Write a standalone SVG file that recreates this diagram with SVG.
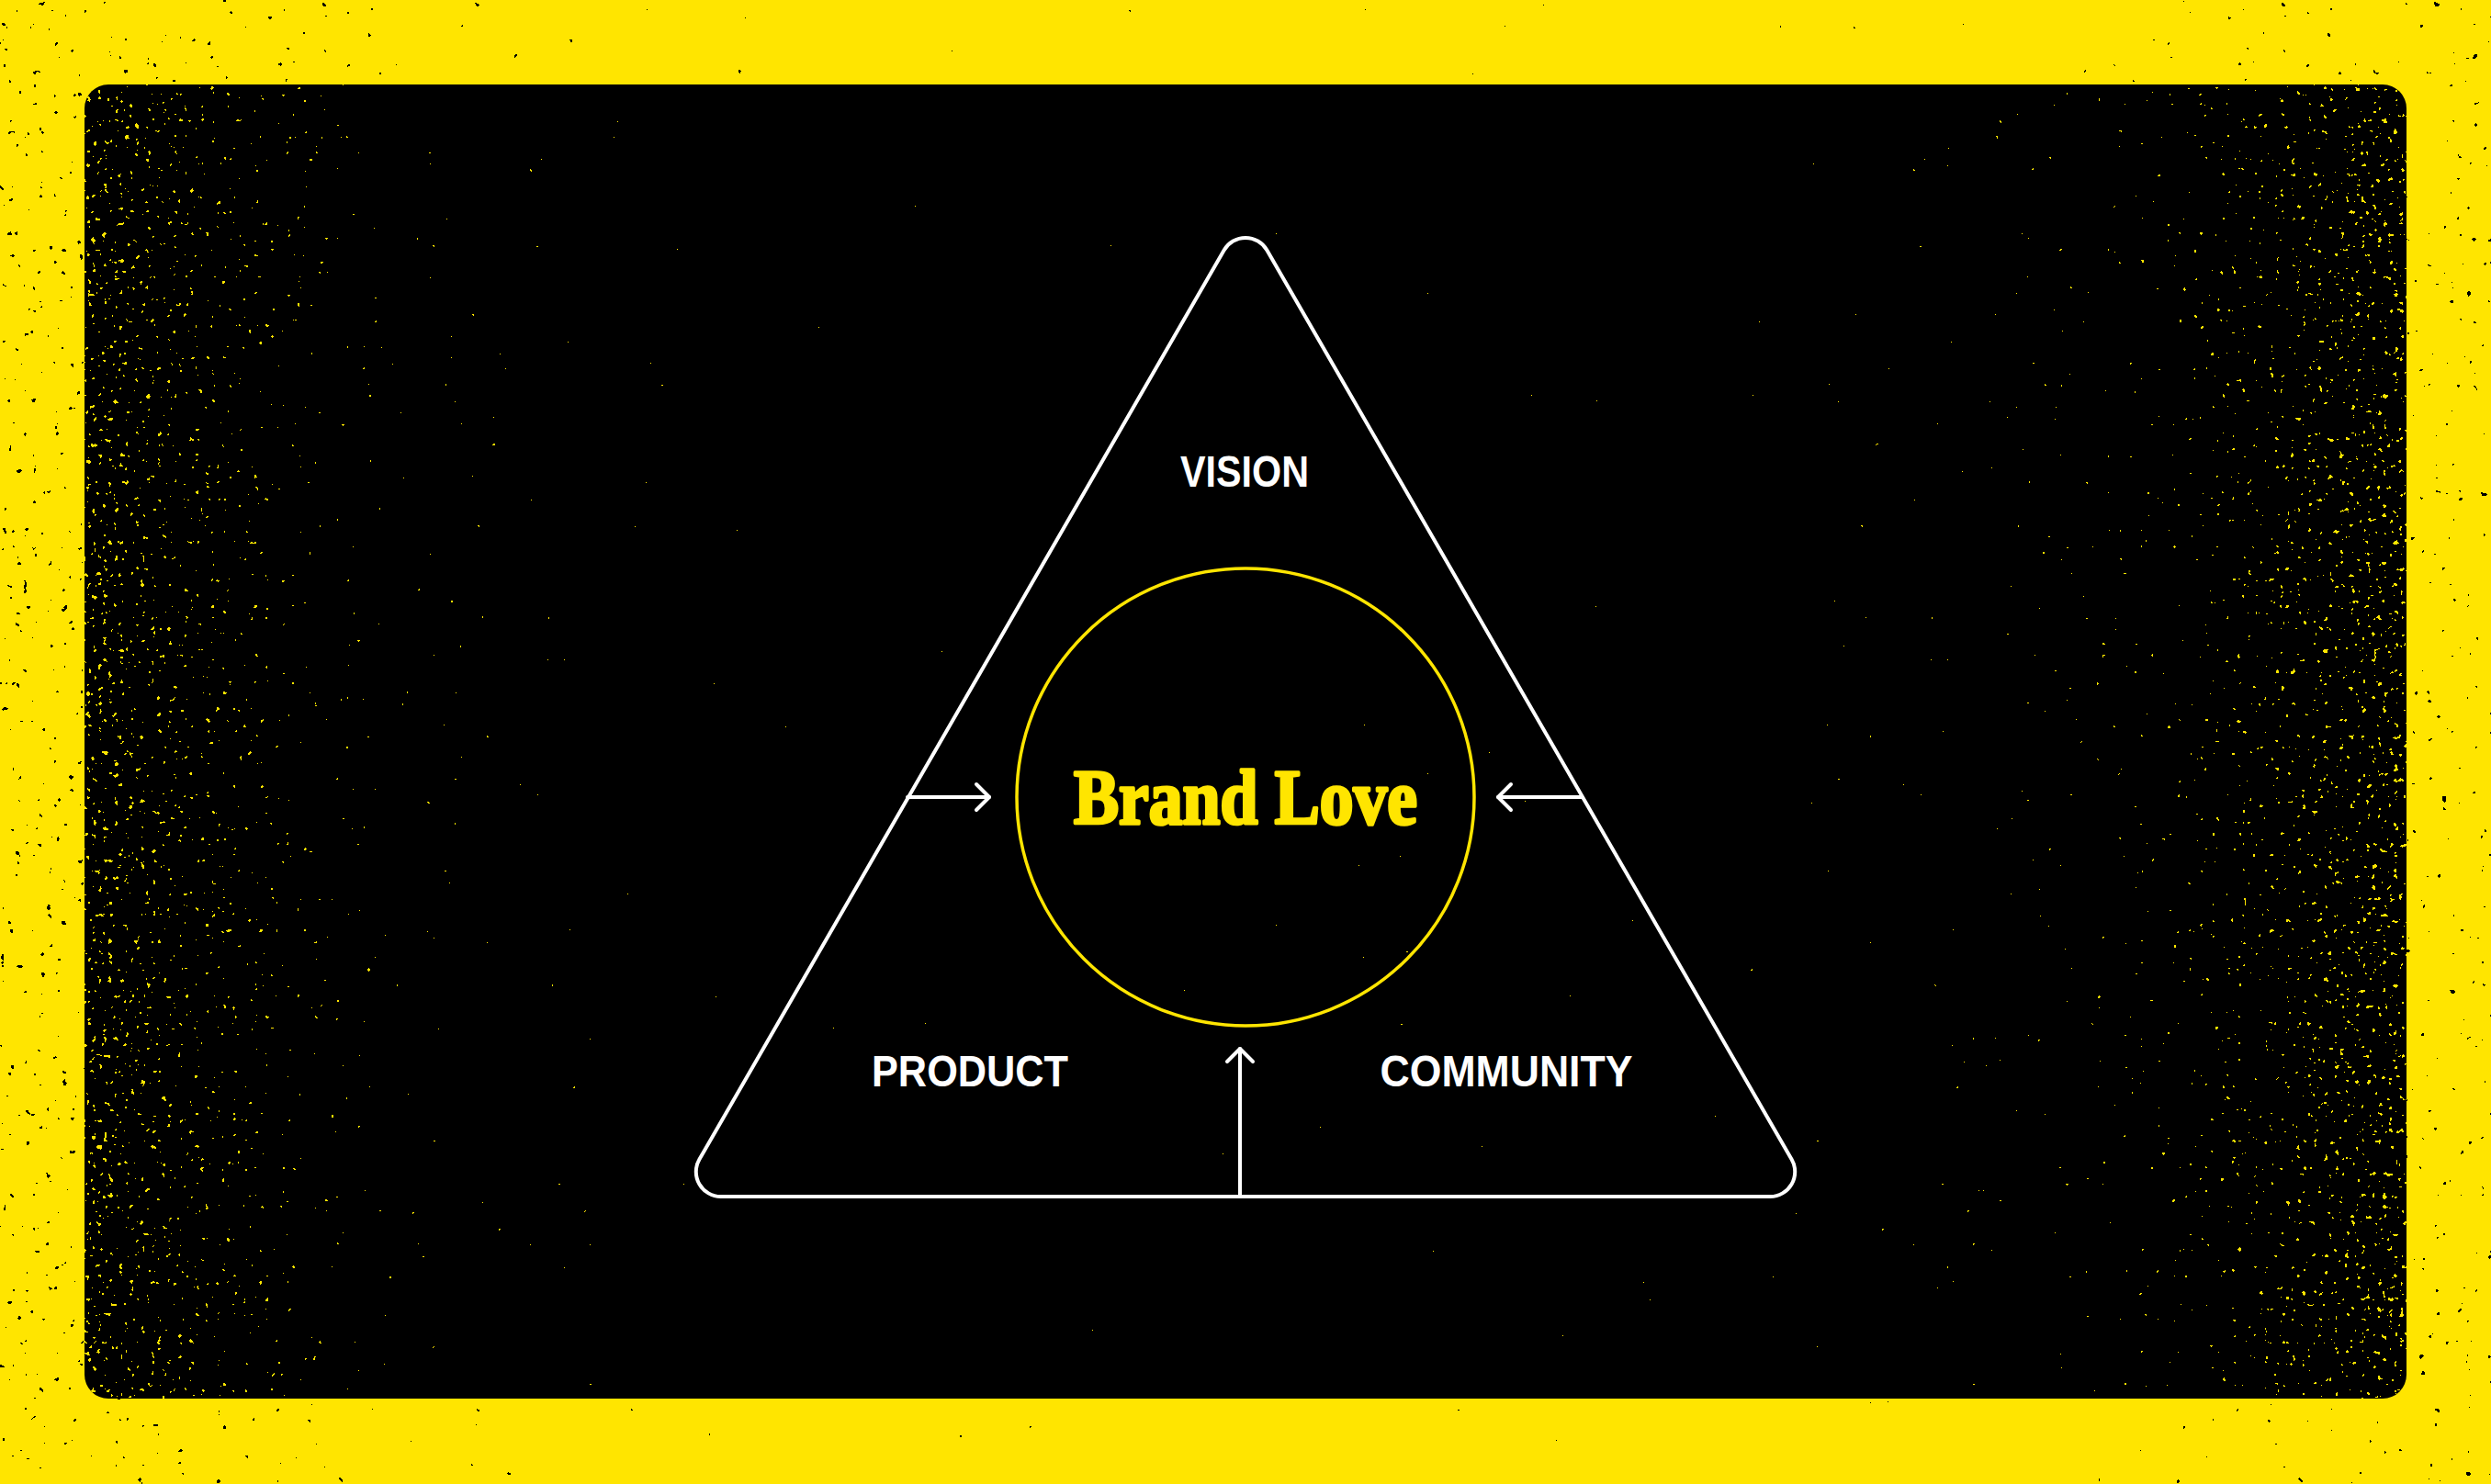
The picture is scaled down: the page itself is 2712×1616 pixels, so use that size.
<svg xmlns="http://www.w3.org/2000/svg" width="2712" height="1616" viewBox="0 0 2712 1616">
  <style>
    .label { font-family: "Liberation Sans", Arial, sans-serif; font-weight: 700; font-size: 48px; fill: #FFFFFF; text-anchor: middle; }
    .title { font-family: "Liberation Serif", "DejaVu Serif", serif; font-weight: 700; font-size: 84px; fill: #FFE500; stroke: #FFE500; stroke-width: 3.5; stroke-linejoin: round; text-anchor: middle; }
    .frame { fill: none; stroke: #FFFFFF; stroke-width: 4; stroke-linejoin: round; }
    .ring { fill: none; stroke: #FFE500; stroke-width: 3.5; }
    .conn { fill: none; stroke: #FFFFFF; stroke-width: 4; stroke-linecap: round; }
  </style>
  <defs>
    <marker id="chev" viewBox="-20 -20 26 40" markerWidth="26" markerHeight="40" refX="0" refY="0" markerUnits="userSpaceOnUse" orient="auto">
      <path d="M -14 -14 L 0 0 L -14 14" fill="none" stroke="#FFFFFF" stroke-width="4" stroke-linecap="round" stroke-linejoin="round"/>
    </marker>
    <linearGradient id="edgeH" x1="0" y1="0" x2="1" y2="0">
      <stop offset="0" stop-color="#fff" stop-opacity="1"/>
      <stop offset="0.04" stop-color="#fff" stop-opacity="0.75"/>
      <stop offset="0.14" stop-color="#fff" stop-opacity="0.25"/>
      <stop offset="0.3" stop-color="#fff" stop-opacity="0"/>
      <stop offset="0.7" stop-color="#fff" stop-opacity="0"/>
      <stop offset="0.86" stop-color="#fff" stop-opacity="0.3"/>
      <stop offset="0.96" stop-color="#fff" stop-opacity="0.8"/>
      <stop offset="1" stop-color="#fff" stop-opacity="1"/>
    </linearGradient>
    <linearGradient id="edgeB" x1="0" y1="0" x2="1" y2="0">
      <stop offset="0" stop-color="#fff" stop-opacity="1"/>
      <stop offset="0.2" stop-color="#fff" stop-opacity="0.45"/>
      <stop offset="0.5" stop-color="#fff" stop-opacity="0.15"/>
      <stop offset="0.8" stop-color="#fff" stop-opacity="0.35"/>
      <stop offset="1" stop-color="#fff" stop-opacity="0.85"/>
    </linearGradient>
    <filter id="yspeck" x="0" y="0" width="1" height="1" color-interpolation-filters="sRGB">
      <feTurbulence type="fractalNoise" baseFrequency="0.17" numOctaves="2" seed="7" result="n"/>
      <feColorMatrix in="n" type="matrix" values="0 0 0 0 0  0 0 0 0 0  0 0 0 0 0  0 0 0 1 0" result="na"/>
      <feComposite in="na" in2="SourceAlpha" operator="arithmetic" k2="1" k3="0.2" result="sum"/>
      <feComponentTransfer in="sum" result="thr">
        <feFuncA type="discrete" tableValues="0 0 0 0 0 0 0 0 0 0 0 0 0 0 0 0 0 0 1 1"/>
      </feComponentTransfer>
      <feFlood flood-color="#FFE500" result="f"/>
      <feComposite in="f" in2="thr" operator="in"/>
    </filter>
    <filter id="bspeck" x="0" y="0" width="1" height="1" color-interpolation-filters="sRGB">
      <feTurbulence type="fractalNoise" baseFrequency="0.12" numOctaves="2" seed="21" result="n"/>
      <feColorMatrix in="n" type="matrix" values="0 0 0 0 0  0 0 0 0 0  0 0 0 0 0  0 0 0 1 0" result="na"/>
      <feComposite in="na" in2="SourceAlpha" operator="arithmetic" k2="1" k3="0.15" result="sum"/>
      <feComponentTransfer in="sum" result="thr">
        <feFuncA type="discrete" tableValues="0 0 0 0 0 0 0 0 0 0 0 0 0 0 0 0 0 0 1 1"/>
      </feComponentTransfer>
      <feFlood flood-color="#000000" result="f"/>
      <feComposite in="f" in2="thr" operator="in"/>
    </filter>
    <clipPath id="panelClip">
      <rect x="92" y="92" width="2528" height="1431" rx="26" ry="26"/>
    </clipPath>
  </defs>

  <g id="background">
    <rect x="0" y="0" width="2712" height="1616" fill="#FFE500"/>
    <rect x="0" y="0" width="2712" height="1616" fill="url(#edgeB)" filter="url(#bspeck)"/>
    <rect x="92" y="92" width="2528" height="1431" rx="26" ry="26" fill="#000000"/>
    <g clip-path="url(#panelClip)">
      <rect x="92" y="92" width="2528" height="1431" fill="url(#edgeH)" filter="url(#yspeck)"/>
    </g>
  </g>

  <g id="frame">
    <path class="frame" d="M 1332.6 272.5 A 27 27 0 0 1 1379.4 272.5 L 1950.6 1262.5 A 27 27 0 0 1 1927.2 1303 L 784.8 1303 A 27 27 0 0 1 761.4 1262.5 Z"/>
  </g>

  <g id="connectors">
    <line class="conn" x1="988" y1="868" x2="1077" y2="868" marker-end="url(#chev)"/>
    <line class="conn" x1="1722" y1="868" x2="1631" y2="868" marker-end="url(#chev)"/>
    <line class="conn" x1="1350" y1="1303" x2="1350" y2="1142" marker-end="url(#chev)"/>
  </g>

  <g id="node-brand-love">
    <circle class="ring" cx="1356" cy="868" r="249"/>
    <text class="title" x="1356" y="897" textLength="374" lengthAdjust="spacingAndGlyphs">Brand Love</text>
  </g>

  <g id="node-vision">
    <text class="label" x="1355" y="530" textLength="140" lengthAdjust="spacingAndGlyphs">VISION</text>
  </g>

  <g id="node-product">
    <text class="label" x="1056" y="1183" textLength="214" lengthAdjust="spacingAndGlyphs">PRODUCT</text>
  </g>

  <g id="node-community">
    <text class="label" x="1640" y="1183" textLength="275" lengthAdjust="spacingAndGlyphs">COMMUNITY</text>
  </g>
</svg>
